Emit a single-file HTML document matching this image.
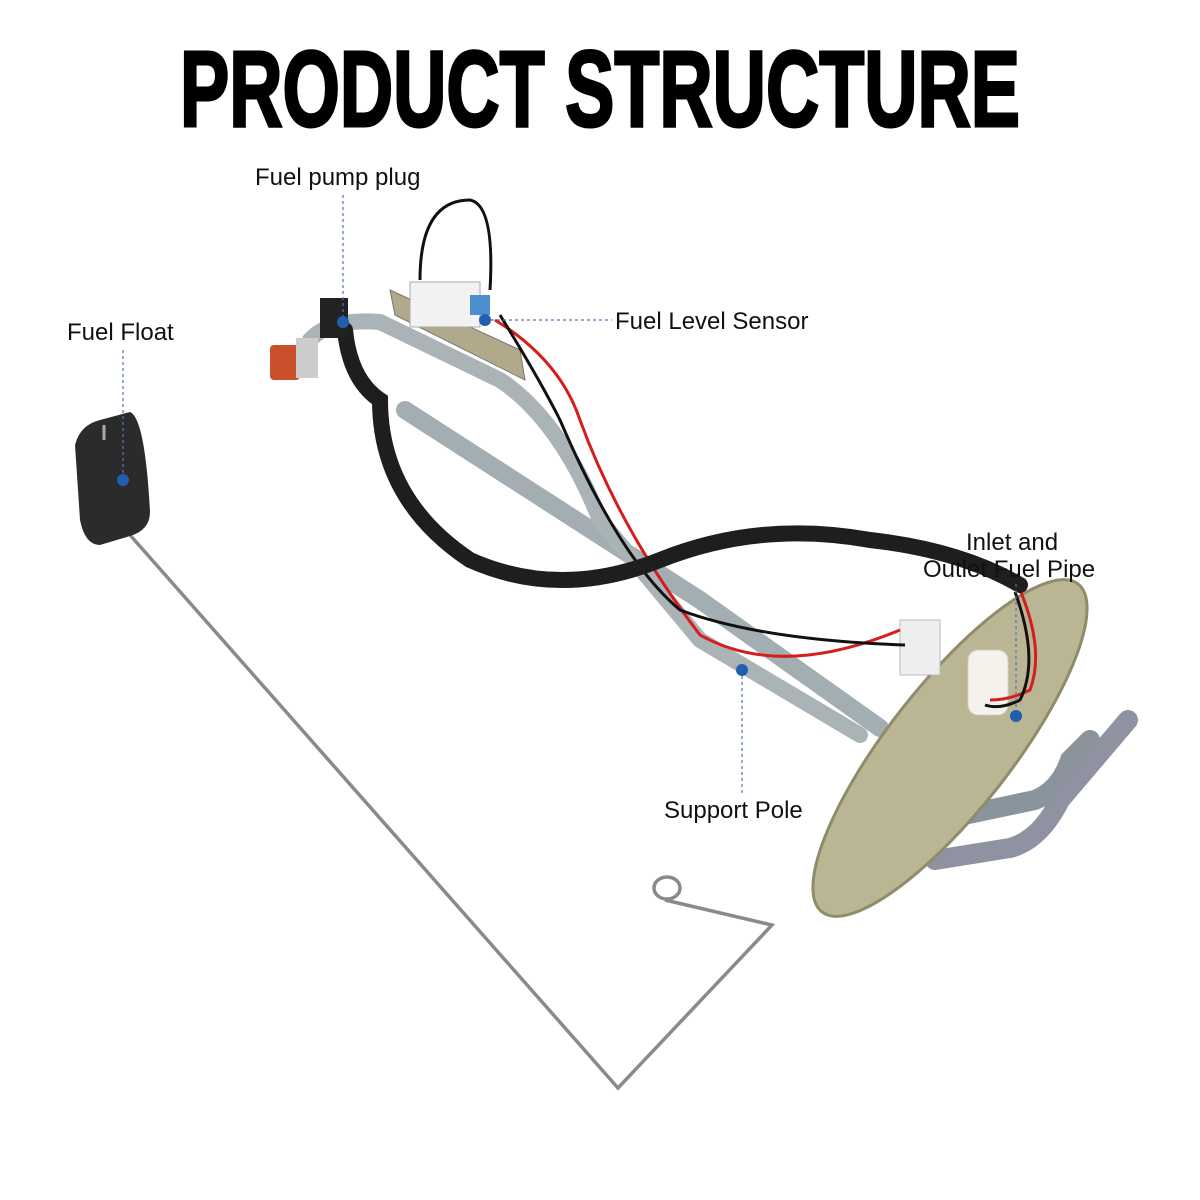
<!DOCTYPE html>
<html><head><meta charset="utf-8"><style>
html,body{margin:0;padding:0;background:#fff;}
svg{display:block}
.l{font-family:"Liberation Sans",sans-serif;font-size:24px;fill:#111}
</style></head><body>
<svg width="1200" height="1200" viewBox="0 0 1200 1200">
<text x="600" y="126" text-anchor="middle" font-family="Liberation Sans" font-weight="900" font-size="108" textLength="840" lengthAdjust="spacingAndGlyphs" fill="#000" stroke="#000" stroke-width="3">PRODUCT STRUCTURE</text>

<!-- float rod -->
<polyline points="130,535 618,1088 772,925 665,900" fill="none" stroke="#8a8a8a" stroke-width="3.5"/>
<ellipse cx="667" cy="888" rx="13" ry="11" fill="none" stroke="#8a8a8a" stroke-width="3.5"/>
<!-- float -->
<path d="M75,445 Q80,425 100,420 L130,412 Q145,418 150,512 Q150,530 130,536 L100,545 Q85,545 80,520 Z" fill="#2b2b2b"/>
<line x1="104" y1="440" x2="104" y2="425" stroke="#aaa" stroke-width="3"/>

<!-- pipes -->
<g fill="none" stroke-linecap="round">
<path d="M405,410 L700,600 L880,728" stroke="#a3aeb2" stroke-width="18"/>
<path d="M310,340 Q330,318 380,322 L500,380 Q560,420 600,520 L700,640 L860,735" stroke="#aab3b5" stroke-width="16"/>
<path d="M940,820 L1035,800 Q1060,790 1070,760 L1090,740" stroke="#8a949c" stroke-width="20"/>
<path d="M935,860 L1010,848 Q1040,840 1060,800 L1128,720" stroke="#8f92a0" stroke-width="20"/>
</g>
<!-- disc -->
<ellipse cx="950" cy="748" rx="62" ry="208" transform="rotate(38 950 748)" fill="#bab592" stroke="#8f8c6c" stroke-width="3"/>
<rect x="900" y="620" width="40" height="55" fill="#eee" stroke="#bbb"/>
<rect x="968" y="650" width="40" height="65" rx="10" fill="#f4f2ea" stroke="#ccc"/>

<!-- bracket -->
<path d="M390,290 L520,350 L525,380 L395,315 Z" fill="#b0a98a" stroke="#777"/>
<rect x="410" y="282" width="70" height="45" fill="#f2f2f2" stroke="#aaa"/>
<rect x="470" y="295" width="20" height="20" fill="#4c8fd0"/>
<!-- wires -->
<g fill="none" stroke-width="3">
<path d="M420,280 Q420,200 470,200 Q495,205 490,290" stroke="#111"/>
<path d="M495,320 Q560,360 580,420 Q620,530 700,635 Q780,680 900,630" stroke="#d41e1e"/>
<path d="M500,315 Q540,380 560,420 Q620,560 680,610 Q760,640 905,645" stroke="#111"/>
<path d="M1020,590 Q1045,650 1030,690 Q1010,700 990,700" stroke="#d41e1e"/>
<path d="M1015,592 Q1040,660 1020,700 Q1000,710 985,705" stroke="#111"/>
</g>
<!-- corrugated hose -->
<path d="M345,330 Q350,380 380,400 Q380,500 470,560 Q560,600 660,560 Q760,520 870,540 Q960,550 1020,585" fill="none" stroke="#1e1e1e" stroke-width="16" stroke-linecap="round"/>
<rect x="320" y="298" width="28" height="40" fill="#222"/>
<rect x="270" y="345" width="30" height="35" rx="4" fill="#c9502a"/>
<rect x="296" y="338" width="22" height="40" fill="#cccccc"/>

<!-- leaders -->
<g stroke="#4a76b8" stroke-width="1.2" stroke-dasharray="3,3" fill="none">
<line x1="343" y1="195" x2="343" y2="322"/>
<line x1="123" y1="350" x2="123" y2="480"/>
<line x1="485" y1="320" x2="612" y2="320"/>
<line x1="742" y1="670" x2="742" y2="795"/>
<line x1="1016" y1="584" x2="1016" y2="716"/>
</g>
<g fill="#1f5fae">
<circle cx="343" cy="322" r="6"/><circle cx="123" cy="480" r="6"/>
<circle cx="485" cy="320" r="6"/><circle cx="742" cy="670" r="6"/>
<circle cx="1016" cy="716" r="6"/>
</g>
<text class="l" x="255" y="185">Fuel pump plug</text>
<text class="l" x="67" y="340">Fuel Float</text>
<text class="l" x="615" y="329">Fuel Level Sensor</text>
<text class="l" x="664" y="818">Support Pole</text>
<text class="l" x="966" y="550">Inlet and</text>
<text class="l" x="923" y="577">Outlet Fuel Pipe</text>
</svg>
</body></html>
